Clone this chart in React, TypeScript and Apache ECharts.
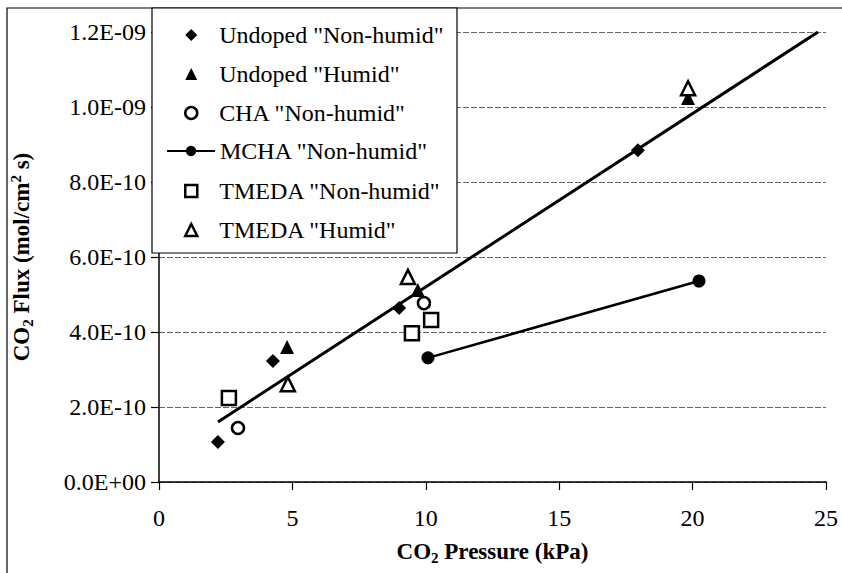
import React, { useEffect, useRef } from "react";
import * as echarts from "echarts";

const xTicks = { min: 0, max: 25, interval: 5 };
const yTicks = { min: 0, max: 1.2e-9, interval: 2e-10 };

const undopedNonHumid = [[2.21, 1.07e-10], [4.27, 3.23e-10], [9.0, 4.64e-10], [17.95, 8.85e-10]];
const undopedHumid = [[4.8, 3.6e-10], [9.7, 5.12e-10], [19.83, 1.024e-9]];
const chaNonHumid = [[2.96, 1.44e-10], [9.93, 4.77e-10]];
const mchaNonHumid = [[10.08, 3.31e-10], [20.24, 5.36e-10]];
const tmedaNonHumid = [[2.62, 2.24e-10], [9.48, 3.97e-10], [10.2, 4.32e-10]];
const tmedaHumid = [[4.83, 2.61e-10], [9.33, 5.47e-10], [19.83, 1.05e-9]];
const trendLine = [[2.21, 1.6e-10], [24.7, 1.2e-9]];

const seriesNames = [
  'Undoped "Non-humid"',
  'Undoped "Humid"',
  'CHA "Non-humid"',
  'MCHA "Non-humid"',
  'TMEDA "Non-humid"',
  'TMEDA "Humid"',
];

const FONT = "Liberation Serif";

const fmtY = (v: number) => {
  if (v === 0) return "0.0E+00";
  const s = v.toExponential(1);
  const [m, e] = s.split("e");
  const sign = e[0] === "-" ? "-" : "+";
  const d = e.replace(/[+-]/, "").padStart(2, "0");
  return `${m}E${sign}${d}`;
};

export default function App() {
  const ref = useRef<HTMLDivElement>(null);
  useEffect(() => {
    if (!ref.current) return;
    const chart = echarts.init(ref.current, null, { renderer: "svg" });
    const hollow = { color: "#fff", borderColor: "#000", borderWidth: 2.5, opacity: 1 };
    const solid = { color: "#000", opacity: 1 };
    const legendText = { fontSize: 24, fontFamily: FONT, color: "#000", lineHeight: 28 };
    const scatterLegend = (names: string[], top: number) => ({
      orient: "vertical",
      left: 184,
      top,
      data: names,
      padding: 0,
      itemWidth: 12,
      itemHeight: 12,
      itemGap: 11,
      itemStyle: { borderWidth: 2.5, opacity: 1 },
      textStyle: { ...legendText, padding: [0, 0, 0, 17] },
      z: 20,
    });
    chart.setOption({
      animation: false,
      backgroundColor: "#fff",
      textStyle: { fontFamily: FONT },
      grid: { left: 159, right: 16, top: 32, bottom: 91, containLabel: false },
      graphic: [
        {
          type: "rect",
          shape: { x: 7, y: 8, width: 900, height: 700 },
          style: { fill: "none", stroke: "#000", lineWidth: 1.2 },
          z: 0,
        },
        {
          type: "rect",
          shape: { x: 152, y: 8, width: 305, height: 245 },
          style: { fill: "#fff", stroke: "#000", lineWidth: 1.2 },
          z: 10,
        },
      ],
      legend: [
        scatterLegend(seriesNames.slice(0, 3), 21),
        {
          orient: "vertical",
          left: 166,
          top: 137,
          data: [seriesNames[3]],
          padding: 0,
          itemWidth: 48,
          itemHeight: 13,
          itemStyle: { opacity: 1 },
          textStyle: legendText,
          z: 20,
        },
        scatterLegend(seriesNames.slice(4, 6), 177),
      ],
      xAxis: {
        type: "value",
        min: xTicks.min,
        max: xTicks.max,
        interval: xTicks.interval,
        name: "CO{sub|2} Pressure (kPa)",
        nameLocation: "middle",
        nameGap: 56,
        nameTextStyle: {
          fontFamily: FONT,
          fontSize: 23,
          fontWeight: "bold",
          color: "#000",
          rich: {
            sub: { fontFamily: FONT, fontSize: 15, fontWeight: "bold", color: "#000", padding: [12, 0, 0, 0] },
          },
        },
        axisLine: { show: true, lineStyle: { color: "#000", width: 1.5 } },
        axisTick: { show: true, inside: false, length: 8, lineStyle: { color: "#000", width: 1.2 } },
        axisLabel: { fontFamily: FONT, fontSize: 24, color: "#000", margin: 24 },
        splitLine: { show: false },
      },
      yAxis: {
        type: "value",
        min: yTicks.min,
        max: yTicks.max,
        interval: yTicks.interval,
        name: "CO{sub|2} Flux (mol/cm{sup|2} s)",
        nameLocation: "middle",
        nameGap: 124,
        nameTextStyle: {
          fontFamily: FONT,
          fontSize: 23,
          fontWeight: "bold",
          color: "#000",
          rich: {
            sub: { fontFamily: FONT, fontSize: 15, fontWeight: "bold", color: "#000", padding: [12, 0, 0, 0] },
            sup: { fontFamily: FONT, fontSize: 15, fontWeight: "bold", color: "#000", padding: [0, 0, 12, 0] },
          },
        },
        axisLine: { show: true, lineStyle: { color: "#000", width: 1.5 } },
        axisTick: { show: true, inside: false, length: 8, lineStyle: { color: "#000", width: 1.2 } },
        axisLabel: { fontFamily: FONT, fontSize: 24, color: "#000", margin: 13, formatter: fmtY },
        splitLine: { show: true, lineStyle: { color: "#666", width: 1, type: [6, 2] } },
      },
      series: [
        {
          name: seriesNames[0],
          type: "scatter",
          data: undopedNonHumid,
          symbol: "diamond",
          symbolSize: 14,
          itemStyle: solid,
          z: 3,
        },
        {
          name: seriesNames[1],
          type: "scatter",
          data: undopedHumid,
          symbol: "triangle",
          symbolSize: 14,
          itemStyle: solid,
          z: 3,
        },
        {
          name: seriesNames[2],
          type: "scatter",
          data: chaNonHumid,
          symbol: "circle",
          symbolSize: 12,
          itemStyle: hollow,
          z: 3,
        },
        {
          name: seriesNames[3],
          type: "line",
          data: mchaNonHumid,
          symbol: "circle",
          symbolSize: 13,
          showSymbol: true,
          itemStyle: solid,
          lineStyle: { color: "#000", width: 2.5 },
          z: 3,
        },
        {
          name: seriesNames[4],
          type: "scatter",
          data: tmedaNonHumid,
          symbol: "rect",
          symbolSize: 14,
          itemStyle: hollow,
          z: 3,
        },
        {
          name: seriesNames[5],
          type: "scatter",
          data: tmedaHumid,
          symbol: "triangle",
          symbolSize: 14,
          itemStyle: hollow,
          z: 3,
        },
        {
          name: "trend",
          type: "line",
          data: trendLine,
          showSymbol: false,
          symbol: "none",
          lineStyle: { color: "#000", width: 3 },
          z: 2,
        },
      ],
    });
    return () => chart.dispose();
  }, []);
  return <div ref={ref} style={{ width: 842, height: 573, position: "absolute", left: 0, top: 0 }} />;
}
